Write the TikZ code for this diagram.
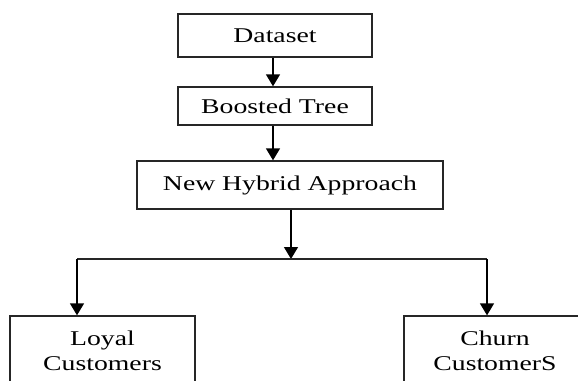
\documentclass[tikz,border=0pt]{standalone}
\usepackage{fontspec}
\setmainfont{Liberation Serif}[FakeStretch=1.32]
\usetikzlibrary{arrows.meta}
\begin{document}
\begin{tikzpicture}[x=1pt,y=-1pt,
  box/.style={draw=black!85, line width=1.3pt, rectangle, inner sep=0pt, font=\fontsize{21}{25}\selectfont, align=center},
  arr/.style={draw=black, line width=1.4pt, -{Triangle[width=14pt,length=12pt]}},
  plain/.style={draw=black!85, line width=1.4pt}]
\clip (0,0) rectangle (578,380);
\fill[white] (0,0) rectangle (578,380);
\node[box, minimum width=194pt, minimum height=43pt] (dataset) at (275,35.5) {Dataset};
\node[box, minimum width=194pt, minimum height=38pt] (boosted) at (275,106) {Boosted Tree};
\node[box, minimum width=306pt, minimum height=48pt] (hybrid) at (290,185) {New Hybrid Approach};
\node[box, minimum width=185pt, minimum height=70pt] (loyal) at (102.5,351) {Loyal\\Customers};
\node[box, minimum width=182pt, minimum height=70pt] (churn) at (495,351) {Churn\\CustomerS};
\coordinate (split) at (291,259);
\coordinate (lcorner) at (77,259);
\coordinate (rcorner) at (487,259);
\draw[arr] (dataset.south -| 273,0) -- (boosted.north -| 273,0);
\draw[arr] (boosted.south -| 273,0) -- (hybrid.north -| 273,0);
\draw[arr] (hybrid.south -| split) -- (split);
\draw[plain] (lcorner) -- (rcorner);
\draw[arr] (lcorner) -- (loyal.north -| lcorner);
\draw[arr] (rcorner) -- (churn.north -| rcorner);
\end{tikzpicture}
\end{document}
